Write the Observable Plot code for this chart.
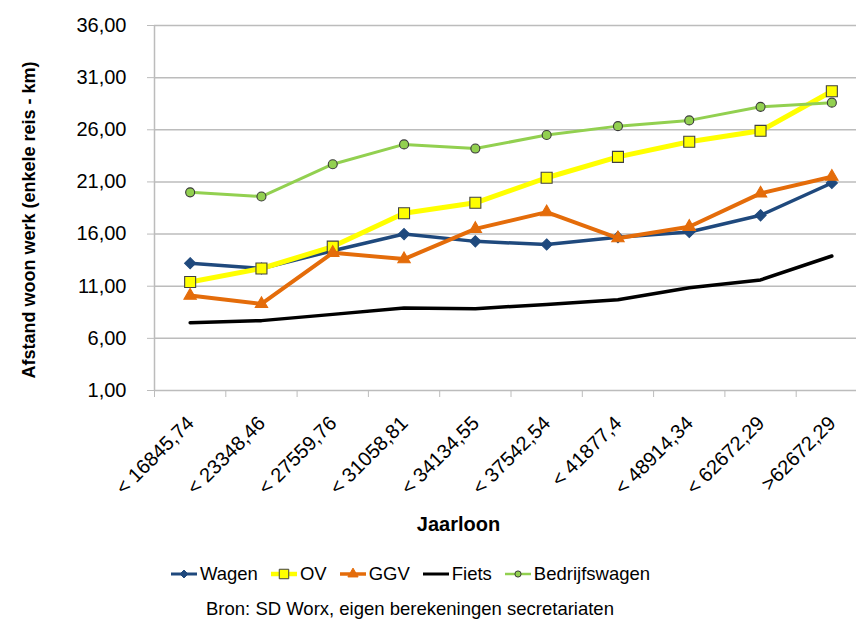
<!DOCTYPE html>
<html><head><meta charset="utf-8">
<script src="https://cdn.jsdelivr.net/npm/d3@7"></script>
<script src="https://cdn.jsdelivr.net/npm/@observablehq/plot@0.6"></script>
<style>
body{margin:0;background:#fff;font-family:"Liberation Sans",Arial,sans-serif;color:#000;}
#wrap{position:relative;width:856px;height:626px;overflow:hidden;background:#fff;}
#chart{position:absolute;left:0;top:0;}
#legend{position:absolute;left:0;width:820px;top:563px;display:flex;justify-content:center;align-items:center;font-size:18.5px;line-height:22px;}
#caption{position:absolute;left:0;width:820px;top:598px;text-align:center;font-size:18.5px;line-height:22px;}
</style></head><body>
<div id="wrap"><div id="chart"></div><div id="legend"></div><div id="caption"></div></div>
<script>
const categories = ["< 16845,74","< 23348,46","< 27559,76","< 31058,81","< 34134,55","< 37542,54","< 41877,4","< 48914,34","< 62672,29",">62672,29"];
const wagen = [13.2,12.7,14.4,16.0,15.3,15.0,15.7,16.2,17.8,20.9];
const ov = [11.4,12.7,14.8,18.0,19.0,21.4,23.4,24.85,25.9,29.7];
const ggv = [10.1,9.3,14.2,13.6,16.5,18.1,15.6,16.7,19.9,21.5];
const fiets = [7.5,7.7,8.3,8.9,8.85,9.25,9.7,10.85,11.6,13.9];
const bedrijfswagen = [20.0,19.6,22.7,24.6,24.2,25.5,26.35,26.9,28.2,28.6];
const yTicks = [1,6,11,16,21,26,31,36];
const yTitle = "Afstand woon werk (enkele reis - km)";
const xTitle = "Jaarloon";
const source = "Bron: SD Worx, eigen berekeningen secretariaten";

const series = [
  {name:"Wagen", values:wagen, color:"#1F497D", width:3.5, symbol:"diamond2", d3sym:d3.symbolDiamond2, r:5, fill:"#1F497D", mstroke:"#1F497D", lsize:40},
  {name:"OV", values:ov, color:"#FFFF00", width:5, symbol:"square", d3sym:d3.symbolSquare, r:6.2, fill:"#FFFF00", mstroke:"#404040", lsize:90},
  {name:"GGV", values:ggv, color:"#E46C0A", width:4, symbol:"triangle", d3sym:d3.symbolTriangle, r:4.6, fill:"#E46C0A", mstroke:"#E46C0A", lsize:45},
  {name:"Fiets", values:fiets, color:"#000000", width:3.5, symbol:null},
  {name:"Bedrijfswagen", values:bedrijfswagen, color:"#92D050", width:3, symbol:"circle", d3sym:d3.symbolCircle, r:4.5, fill:"#92D050", mstroke:"#3A3A3A", lsize:30}
];

const grid = "#bcbcbc";
const fmt = d => d.toFixed(2).replace(".", ",");
const bounds = d3.range(categories.length + 1).map(i => i - 0.5);

const marks = [
  Plot.gridY(yTicks.slice(1), {stroke: grid, strokeOpacity: 1, strokeWidth: 1.5}),
  Plot.ruleX([-0.5], {stroke: grid, strokeWidth: 1.5}),
  Plot.ruleY([1], {stroke: grid, strokeWidth: 1.5}),
  Plot.axisY({ticks: yTicks, tickFormat: fmt, tickSize: 7, tickPadding: 21, fontSize: 20, stroke: grid, fill: "#000", label: null}),
  Plot.axisX({ticks: bounds, tickFormat: () => "", tickSize: 7, stroke: grid, label: null}),
  Plot.text(categories, {x: (d, i) => i, text: d => d, frameAnchor: "bottom", textAnchor: "end", rotate: -45, dx: 5, dy: 34, fontSize: 20, fill: "#000"}),
  Plot.text([yTitle], {frameAnchor: "left", textAnchor: "middle", dx: -125, dy: 12, rotate: -90, fontSize: 18, fontWeight: "bold", fill: "#000"}),
  Plot.text([xTitle], {frameAnchor: "bottom-left", textAnchor: "middle", dx: 304, dy: 140.5, fontSize: 20, fontWeight: "bold", fill: "#000"})
];

for (const s of series) {
  const rows = s.values.map((v, i) => ({i, v, c: categories[i]}));
  marks.push(Plot.line(rows, {x: "i", y: "v", stroke: s.color, strokeWidth: s.width, strokeLinejoin: "round", strokeLinecap: "round"}));
  if (s.symbol) marks.push(Plot.dot(rows, {x: "i", y: "v", symbol: s.symbol, r: s.r, fill: s.fill, stroke: s.mstroke, strokeWidth: 1.1}));
}

const chart = Plot.plot({
  width: 867, height: 548,
  marginLeft: 154, marginRight: 0, marginTop: 25, marginBottom: 158,
  style: {fontFamily: "Liberation Sans, Arial, sans-serif", fontSize: "20px", maxWidth: "none", background: "transparent", color: "#000"},
  x: {type: "linear", domain: [-0.5, categories.length - 0.5]},
  y: {type: "linear", domain: [1, 36]},
  marks
});
document.getElementById("chart").appendChild(chart);

const legend = d3.select("#legend");
for (const s of series) {
  const item = legend.append("div").style("display", "flex").style("align-items", "center").style("margin", "0 6px");
  const svg = item.append("svg").attr("width", 28).attr("height", 16);
  svg.append("line").attr("x1", 1).attr("x2", 27).attr("y1", 8).attr("y2", 8).attr("stroke", s.color).attr("stroke-width", s.width - 0.5);
  if (s.symbol) {
    svg.append("path").attr("d", d3.symbol(s.d3sym, s.lsize)()).attr("transform", "translate(14,8)")
      .attr("fill", s.fill).attr("stroke", s.mstroke).attr("stroke-width", 1);
  }
  item.append("span").text(s.name).style("margin-left", "2px");
}
d3.select("#caption").text(source);
</script>
</body></html>
